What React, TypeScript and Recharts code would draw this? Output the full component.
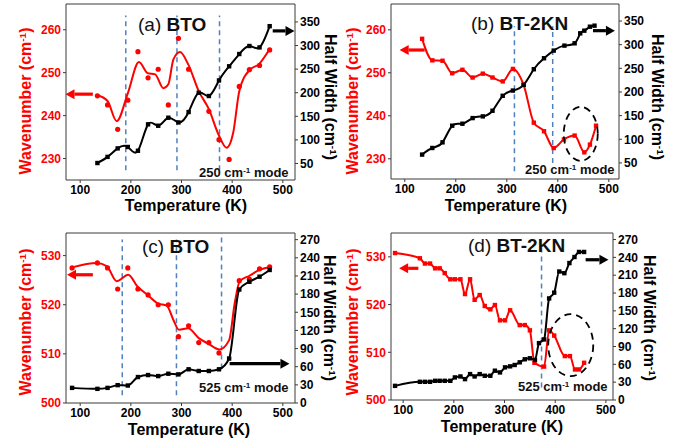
import React from "react";
import {
  ComposedChart,
  Line,
  Scatter,
  XAxis,
  YAxis,
  ReferenceLine,
  ReferenceDot,
} from "recharts";

// ---- (a) BTO, 250 cm-1 mode ----
const aRedT = [134, 154, 174, 194, 214, 234, 254, 274, 294, 314, 354, 374, 394, 414, 434, 454, 474];
const aRedW = [244.6, 242.5, 236.8, 243.6, 254.9, 248.8, 250.8, 242.5, 258.0, 250.8, 241.0, 234.4, 229.8, 246.8, 250.7, 251.7, 255.3];
const aFitT = [133, 154, 172, 194, 216, 233, 248, 264, 274, 284, 297, 313, 334, 354, 373, 389, 402, 414, 434, 453, 474];
const aFitW = [244.8, 243.4, 238.7, 245.2, 252.5, 249.9, 249.6, 246.4, 247.3, 253.1, 254.8, 252.0, 245.7, 241.5, 235.6, 232.5, 236.0, 245.7, 250.6, 252.0, 255.5];
const aBlkT = [134, 154, 174, 194, 214, 234, 254, 274, 294, 314, 334, 354, 374, 394, 414, 434, 454, 474];
const aBlkH = [51, 64, 82, 85, 77, 133, 130, 147, 137, 159, 200, 193, 226, 256, 282, 299, 296, 341];
const aDash = [190, 291, 375];

// ---- (b) BT-2KN, 250 cm-1 mode ----
const bRedT = [134, 154, 174, 193, 213, 233, 253, 272, 292, 312, 333, 353, 373, 392, 412, 433, 452, 463, 475];
const bRedW = [257.9, 252.9, 252.8, 249.9, 250.7, 248.9, 249.8, 248.9, 248.0, 250.9, 247.2, 238.4, 236.4, 232.5, 234.5, 235.4, 231.5, 233.3, 237.7];
const bBlkT = [134, 154, 174, 193, 213, 233, 253, 272, 292, 312, 333, 353, 373, 392, 413, 433, 444, 452, 463, 472];
const bBlkH = [67.6, 81.6, 93.5, 128.7, 132.9, 144.8, 148.4, 160.3, 191.9, 203, 215.1, 248.1, 271.3, 287.5, 298, 302.9, 324, 329.6, 338, 340.2];
const bDash = [315, 390];

// ---- (c) BTO, 525 cm-1 mode ----
const cRedT = [84, 134, 154, 174, 194, 214, 234, 254, 274, 294, 314, 334, 354, 374, 414, 434, 454, 474];
const cRedW = [527.5, 528.5, 527.5, 523.2, 527.5, 523.2, 522.0, 520.0, 520.0, 513.5, 515.7, 512.3, 512.3, 510.2, 524.9, 525.2, 527.3, 527.7];
const cFitT = [84, 133, 153, 172, 195, 213, 233, 253, 271, 284, 295, 313, 334, 354, 375, 394, 405, 415, 434, 454, 474];
const cFitW = [527.6, 528.5, 527.8, 524.8, 526.1, 523.7, 522.0, 520.3, 519.8, 516.9, 514.9, 515.2, 513.2, 512.0, 510.9, 512.8, 520.3, 524.8, 525.9, 527.1, 527.7];
const cBlkT = [84, 134, 154, 174, 194, 214, 234, 254, 274, 294, 314, 334, 354, 374, 394, 414, 434, 454, 474];
const cBlkH = [25, 23.4, 25, 29.5, 28.9, 42.9, 46.2, 44.5, 48.4, 47.3, 55.7, 52.9, 52.9, 55.7, 73.5, 187.6, 200.4, 208.8, 219.9];
const cDash = [183, 290, 379];

// ---- (d) BT-2KN, 525 cm-1 mode ----
const dRedT = [84, 133, 143, 153, 163, 172, 182, 193, 202, 213, 222, 232, 241, 251, 261, 272, 281, 291, 301, 311, 330, 340, 350, 359, 378, 388, 398, 419, 429, 439, 447, 457];
const dRedW = [530.8, 529.7, 528.6, 528.6, 527.6, 527.6, 526.6, 525.3, 525.3, 525.3, 522.2, 525.3, 521.0, 522.0, 519.7, 519.0, 519.9, 516.7, 516.7, 518.8, 515.7, 515.7, 514.6, 507.8, 507.0, 514.6, 513.5, 509.2, 509.2, 506.4, 506.4, 507.8];
const dBlkT = [84, 133, 143, 153, 163, 172, 182, 193, 202, 213, 222, 232, 241, 251, 261, 272, 281, 291, 301, 311, 320, 330, 340, 350, 360, 368, 378, 388, 398, 408, 418, 428, 438, 447, 457];
const dBlkH = [23.8, 30.6, 30.6, 30.6, 32.3, 32.3, 32.3, 32.3, 38, 39.6, 35.1, 43.6, 39.6, 43.6, 40.8, 40.8, 49.3, 46.4, 54.9, 56.6, 58.9, 63.4, 68.5, 70.2, 67.4, 95.7, 101.9, 170.9, 180.6, 216.2, 213.4, 230.4, 240.6, 249.1, 249.1];
const dDash = [373];

const xTicks = [100, 200, 300, 400, 500];
const lowTicks = [230, 240, 250, 260];
const lowTicksR = [50, 100, 150, 200, 250, 300, 350];
const highTicks = [500, 510, 520, 530];
const highTicksR = [0, 30, 60, 90, 120, 150, 180, 210, 240, 270];

const RED = "#ff0000";
const BLUE = "#4f81bd";
const AXIS = "#3a3a3a";
const FONT = "Arial, 'Liberation Sans', Helvetica, sans-serif";

type Pt = { x: number; y: number };
const pts = (xs: number[], ys: number[]): Pt[] => xs.map((x, i) => ({ x, y: ys[i] }));

const squareDot = (color: string) => (p: any) => (
  <rect key={`sq-${p.index}`} x={p.cx - 2.2} y={p.cy - 2.2} width={4.4} height={4.4} fill={color} />
);

const roundDot = (p: any) => <circle cx={p.cx} cy={p.cy} r={2.6} fill={RED} />;

const arrowShape = (color: string) => (p: any) => {
  const { x1, y1, x2, y2 } = p;
  const dir = x2 > x1 ? 1 : -1;
  const hl = 9;
  const hw = 5;
  return (
    <g>
      <line x1={x1} y1={y1} x2={x2 - dir * hl} y2={y2} stroke={color} strokeWidth={3.2} />
      <polygon points={`${x2},${y2} ${x2 - dir * hl},${y2 - hw} ${x2 - dir * hl},${y2 + hw}`} fill={color} />
    </g>
  );
};

interface Arrow {
  axis: "L" | "R";
  from: number;
  to: number;
  y: number;
  color: string;
}

interface PanelProps {
  box: [number, number, number, number];
  xDom: [number, number];
  lDom: [number, number];
  rDom: [number, number];
  lTicks: number[];
  rTicks: number[];
  red: Pt[];
  redFit?: Pt[];
  black: Pt[];
  blackCurve: "natural" | "monotone";
  dashes: number[];
  dashSpan: [number, number][];
  arrows: Arrow[];
  ellipse?: { x: number; y: number; rx: number; ry: number };
}

const LW = 50;
const RW = 46;
const TOP = 6;
const XH = 32;

const tickStyle = (color: string) => ({
  fill: color,
  fontSize: 12,
  fontWeight: "bold" as const,
  fontFamily: FONT,
});

const Panel = (p: PanelProps) => {
  const width = p.box[2] - p.box[0] + LW + RW;
  const height = p.box[3] - p.box[1] + TOP + XH;
  return (
    <div style={{ position: "absolute", left: p.box[0] - LW, top: p.box[1] - TOP }}>
      <ComposedChart width={width} height={height} margin={{ top: TOP, right: 0, bottom: 0, left: 0 }}>
        <XAxis
          dataKey="x"
          type="number"
          domain={p.xDom}
          ticks={xTicks}
          interval={0}
          allowDataOverflow
          height={XH}
          tickSize={3}
          stroke={AXIS}
          tick={tickStyle("#000")}
        />
        <YAxis
          yAxisId="L"
          type="number"
          domain={p.lDom}
          ticks={p.lTicks}
          interval={0}
          allowDataOverflow
          width={LW}
          tickSize={3}
          stroke={AXIS}
          tick={tickStyle(RED)}
        />
        <YAxis
          yAxisId="R"
          orientation="right"
          type="number"
          domain={p.rDom}
          ticks={p.rTicks}
          interval={0}
          allowDataOverflow
          width={RW}
          tickSize={3}
          stroke={AXIS}
          tick={tickStyle("#000")}
        />
        <ReferenceLine yAxisId="L" y={p.lDom[1]} stroke={AXIS} ifOverflow="visible" />
        {p.dashes.map((d, i) => (
          <ReferenceLine
            key={`dash-${i}`}
            yAxisId="L"
            ifOverflow="visible"
            segment={[
              { x: d, y: p.dashSpan[i][0] },
              { x: d, y: p.dashSpan[i][1] },
            ]}
            stroke={BLUE}
            strokeWidth={1.5}
            strokeDasharray="5 4"
          />
        ))}
        {p.redFit && (
          <Line
            yAxisId="L"
            data={p.redFit}
            dataKey="y"
            type="monotone"
            stroke={RED}
            strokeWidth={2}
            dot={false}
            isAnimationActive={false}
          />
        )}
        {p.redFit ? (
          <Scatter yAxisId="L" data={p.red} dataKey="y" shape={roundDot} isAnimationActive={false} />
        ) : (
          <Line
            yAxisId="L"
            data={p.red}
            dataKey="y"
            type="monotone"
            stroke={RED}
            strokeWidth={2}
            dot={squareDot(RED)}
            isAnimationActive={false}
          />
        )}
        <Line
          yAxisId="R"
          data={p.black}
          dataKey="y"
          type={p.blackCurve}
          stroke="#000"
          strokeWidth={2}
          dot={squareDot("#000")}
          isAnimationActive={false}
        />
        {p.arrows.map((a, i) => (
          <ReferenceLine
            key={`arr-${i}`}
            yAxisId={a.axis}
            ifOverflow="visible"
            segment={[
              { x: a.from, y: a.y },
              { x: a.to, y: a.y },
            ]}
            shape={arrowShape(a.color)}
          />
        ))}
        {p.ellipse && (
          <ReferenceDot
            yAxisId="L"
            x={p.ellipse.x}
            y={p.ellipse.y}
            ifOverflow="visible"
            shape={(s: any) => (
              <ellipse
                cx={s.cx}
                cy={s.cy}
                rx={p.ellipse!.rx}
                ry={p.ellipse!.ry}
                fill="none"
                stroke="#000"
                strokeWidth={1.8}
                strokeDasharray="7 5"
              />
            )}
          />
        )}
      </ComposedChart>
    </div>
  );
};

const Cm = () => (
  <>
    cm<sup style={{ fontSize: "0.62em", verticalAlign: "0.55em" }}>-1</sup>
  </>
);

const Rot = ({ x, y, deg, color, children }: any) => (
  <div
    style={{
      position: "absolute",
      left: x,
      top: y,
      transform: `translate(-50%, -50%) rotate(${deg}deg)`,
      whiteSpace: "nowrap",
      fontFamily: FONT,
      fontWeight: "bold",
      fontSize: 16,
      lineHeight: 1,
      color,
    }}
  >
    {children}
  </div>
);

const Title = ({ x, y, tag, name }: any) => (
  <div
    style={{
      position: "absolute",
      left: x,
      top: y - 10,
      whiteSpace: "nowrap",
      fontFamily: FONT,
      fontSize: 19,
      lineHeight: 1,
      color: "#111",
    }}
  >
    {tag} <b>{name}</b>
  </div>
);

const Mode = ({ x, y, v }: any) => (
  <div
    style={{
      position: "absolute",
      left: x,
      top: y - 7,
      whiteSpace: "nowrap",
      fontFamily: FONT,
      fontSize: 13,
      fontWeight: "bold",
      lineHeight: 1,
      color: "#111",
    }}
  >
    {v} <Cm /> mode
  </div>
);

const Labels = ({ lx, rx, cy, tx, ty }: any) => (
  <>
    <Rot x={lx} y={cy} deg={-90} color={RED}>
      Wavenumber (<Cm />)
    </Rot>
    <Rot x={rx} y={cy - 4} deg={90} color="#000">
      Half Width (<Cm />)
    </Rot>
    <Rot x={tx} y={ty} deg={0} color="#000">
      Temperature (K)
    </Rot>
  </>
);

export default function App() {
  return (
    <div style={{ position: "absolute", left: 0, top: 0, width: 691, height: 439, background: "#fff" }}>
      <Panel
        box={[66, 4, 295, 180]}
        xDom={[72, 524]}
        lDom={[225, 266]}
        rDom={[15, 388]}
        lTicks={lowTicks}
        rTicks={lowTicksR}
        red={pts(aRedT, aRedW)}
        redFit={pts(aFitT, aFitW)}
        black={pts(aBlkT, aBlkH)}
        blackCurve="natural"
        dashes={aDash}
        dashSpan={[[227.3, 263.3], [227.3, 263.3], [227.3, 263.3]]}
        arrows={[
          { axis: "L", from: 125, to: 71, y: 245, color: RED },
          { axis: "R", from: 480, to: 523, y: 331, color: "#000" },
        ]}
      />
      <Panel
        box={[391, 4, 619, 179]}
        xDom={[73, 520]}
        lDom={[225.3, 266]}
        rDom={[16, 386]}
        lTicks={lowTicks}
        rTicks={lowTicksR}
        red={pts(bRedT, bRedW)}
        black={pts(bBlkT, bBlkH)}
        blackCurve="natural"
        dashes={bDash}
        dashSpan={[[227.1, 260.8], [229, 260.8]]}
        arrows={[
          { axis: "L", from: 139, to: 90, y: 255.3, color: RED },
          { axis: "R", from: 469, to: 512, y: 329.6, color: "#000" },
        ]}
        ellipse={{ x: 445, y: 235.8, rx: 17, ry: 27 }}
      />
      <Panel
        box={[66, 233, 295, 403]}
        xDom={[72, 524]}
        lDom={[500, 534.6]}
        rDom={[0, 281]}
        lTicks={highTicks}
        rTicks={highTicksR}
        red={pts(cRedT, cRedW)}
        redFit={pts(cFitT, cFitW)}
        black={pts(cBlkT, cBlkH)}
        blackCurve="monotone"
        dashes={cDash}
        dashSpan={[[501.6, 533.3], [501.6, 533.3], [507, 534.6]]}
        arrows={[
          { axis: "L", from: 125, to: 74, y: 526.1, color: RED },
          { axis: "R", from: 395, to: 513, y: 65, color: "#000" },
        ]}
      />
      <Panel
        box={[391, 233, 613, 400]}
        xDom={[76, 514]}
        lDom={[500, 535]}
        rDom={[0, 281]}
        lTicks={highTicks}
        rTicks={highTicksR}
        red={pts(dRedT, dRedW)}
        black={pts(dBlkT, dBlkH)}
        blackCurve="monotone"
        dashes={dDash}
        dashSpan={[[502.6, 532]]}
        arrows={[
          { axis: "L", from: 130, to: 92, y: 527.6, color: RED },
          { axis: "R", from: 460, to: 505, y: 236, color: "#000" },
        ]}
        ellipse={{ x: 430.6, y: 511.5, rx: 22.5, ry: 31 }}
      />

      <Title x={138} y={25} tag="(a)" name="BTO" />
      <Title x={471} y={24} tag="(b)" name="BT-2KN" />
      <Title x={142} y={247} tag="(c)" name="BTO" />
      <Title x={468} y={246} tag="(d)" name="BT-2KN" />

      <Mode x={199} y={173} v="250" />
      <Mode x={525} y={170} v="250" />
      <Mode x={199} y={388} v="525" />
      <Mode x={518} y={387} v="525" />

      <Labels lx={26} rx={330} cy={101} tx={186} ty={206} />
      <Labels lx={353} rx={657} cy={101} tx={506} ty={206} />
      <Labels lx={26} rx={329} cy={322} tx={189} ty={430} />
      <Labels lx={353} rx={649} cy={322} tx={502} ty={427} />
    </div>
  );
}
